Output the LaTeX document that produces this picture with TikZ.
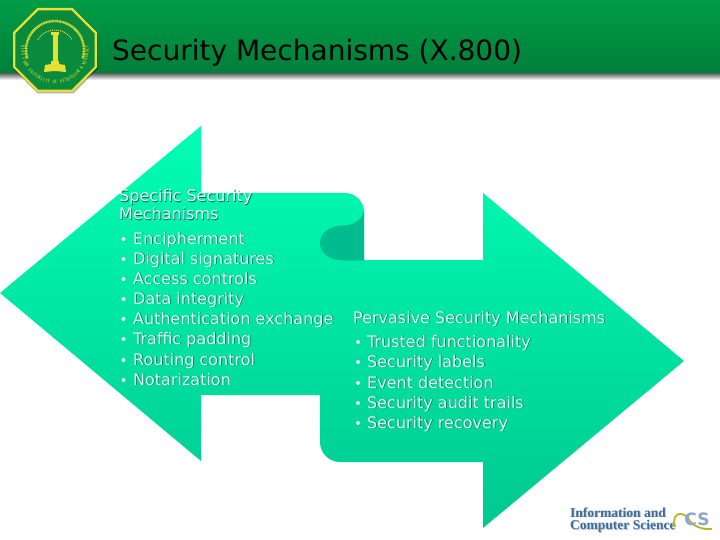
\documentclass[tikz,border=0pt]{standalone}
\usepackage{fontspec}
\setmainfont{DejaVu Sans}
\newfontfamily\logofont{Liberation Serif}
\definecolor{hdrtop}{HTML}{009C48}
\definecolor{hdrbot}{HTML}{007F38}
\definecolor{logogreen}{HTML}{0A8A3C}
\definecolor{logoyellow}{HTML}{E8E030}
\definecolor{arrowtop}{HTML}{00FFB4}
\definecolor{arrowbot}{HTML}{00C890}
\definecolor{foldcol}{HTML}{00BC8E}
\definecolor{bodytext}{HTML}{E6FFF6}
\definecolor{icsblue}{HTML}{3A6E9E}
\newcommand{\txtshadow}[1]{\makebox[0pt][l]{\hspace{0.7pt}\raisebox{-0.7pt}{\color{black!45!arrowbot}#1}}#1}
\newcommand{\icsshadow}[1]{\makebox[0pt][l]{\hspace{0.9pt}\raisebox{-0.9pt}{\color{black!25}#1}}#1}
\tikzset{
  heading/.style={anchor=base west,inner sep=0pt,font=\fontsize{16}{18}\selectfont,text=bodytext},
  item/.style={anchor=base west,inner sep=0pt,font=\fontsize{16}{18}\selectfont,text=bodytext},
  dotmark/.style={circle,fill=bodytext,inner sep=0pt,minimum size=4pt},
  arrowshape/.style={top color=arrowtop,bottom color=arrowbot},
  ringletter/.style={inner sep=0pt,font=\logofont\bfseries\fontsize{5}{5}\selectfont,text=logoyellow},
  icstext/.style={anchor=base west,inner sep=0pt,font=\logofont\bfseries\fontsize{13.5}{14}\selectfont,text=icsblue}
}
\begin{document}
\begin{tikzpicture}[x=1pt,y=-1pt]
\useasboundingbox (0,0) rectangle (720,540);
\fill[white] (0,0) rectangle (720,540);
% header band
\shade[top color=hdrtop,bottom color=hdrbot] (0,0) rectangle (720,74);
\shade[top color=black!55,bottom color=white] (0,74) rectangle (720,80);
\node[anchor=base west,inner sep=0pt,font=\fontsize{28}{32}\selectfont,text=black] (title) at (112,61) {Security Mechanisms (X.800)};
% double arrow as one shape
\shade[arrowshape] (0,293) -- (201,126) -- (201,193) -- (345,193) arc[start angle=270,end angle=360,radius=19] -- (364,260) -- (483,260) -- (483,193) -- (684,361) -- (483,528) -- (483,462) -- (340,462) arc[start angle=90,end angle=180,radius=20] -- (320,395) -- (201,395) -- (201,461) -- cycle;
% fold
\fill[foldcol] (364,209) .. controls (364,219) and (354,225.5) .. (343,225.5) .. controls (330,225.5) and (320,233) .. (320,243) .. controls (320,253) and (330,260.5) .. (343,260.5) -- (364,260.5) -- cycle;
% left text
\node[heading] (sa) at (119,202) {\txtshadow{Specific Security}};
\node[heading] (sb) at (119,220) {\txtshadow{Mechanisms}};
\foreach \n/\y/\t in {a/244/Encipherment,b/264/Digital signatures,c/284/Access controls,d/304/Data integrity,e/324/Authentication exchange,f/344/Traffic padding,g/365/Routing control,h/385/Notarization}{
  \node[item] (l\n) at (133,\y) {\txtshadow{\t}};
  \node[dotmark] (ld\n) at (123.5,\y-5) {};
}
% right text
\node[heading] (pa) at (353,323) {\txtshadow{Pervasive Security Mechanisms}};
\foreach \n/\y/\t in {a/347/Trusted functionality,b/367/Security labels,c/388/Event detection,d/408/Security audit trails,e/428/Security recovery}{
  \node[item] (r\n) at (367,\y) {\txtshadow{\t}};
  \node[dotmark] (rd\n) at (358,\y-5) {};
}
% KFUPM logo
\begin{scope}[shift={(55,50)}]
  \fill[black,opacity=.3] (-17.5,-41) -- (18.5,-41) -- (43,-16.5) -- (43,18.5) -- (18.5,43.5) -- (-17.5,43.5) -- (-42,18.5) -- (-42,-16.5) -- cycle;
  \fill[logoyellow] (-17.5,-42) -- (17.5,-42) -- (42,-17.5) -- (42,17.5) -- (17.5,42) -- (-17.5,42) -- (-42,17.5) -- (-42,-17.5) -- cycle;
  \fill[logogreen] (-16.5,-39.7) -- (16.5,-39.7) -- (39.7,-16.5) -- (39.7,16.5) -- (16.5,39.7) -- (-16.5,39.7) -- (-39.7,16.5) -- (-39.7,-16.5) -- cycle;
  \draw[logoyellow,line width=2.4pt,dash pattern=on 1pt off .6pt] (163:29) arc[start angle=163,end angle=377,radius=29];
  \draw[logoyellow,line width=1pt,dash pattern=on 1pt off 1pt] (210:20) arc[start angle=210,end angle=330,radius=20];
  \foreach \c [count=\i] in {K,I,N,G,{},F,A,H,D,{},U,N,I,V,E,R,S,I,T,Y,{},O,F,{},P,E,T,R,O,L,E,U,M,{},\&,{},M,I,N,E,R,A,L,S}{
    \pgfmathsetmacro{\a}{-96+(\i-1)*192/43}
    \node[ringletter,rotate=\a] (ring\i) at ({32*sin(\a)},{32*cos(\a)}) {\scalebox{.55}[1]{\c}};
  }
  \fill[logoyellow] (-2.5,-17) rectangle (2.5,12);
  \fill[logoyellow] (-4,-18) rectangle (4,-15);
  \fill[logoyellow] (-4,11) rectangle (4,14);
  \fill[logoyellow] (-10,15) -- (0,13.5) -- (10,15) -- (11,22) -- (0,21) -- (-11,22) -- cycle;
\end{scope}
% ICS logo
\node[icstext] (ia) at (570,517) {\icsshadow{Information and}};
\node[icstext] (ib) at (570,529.5) {\icsshadow{Computer Science}};
\draw[line width=1.8pt,draw=logoyellow!80!black] (675,527) .. controls (671,516) and (680,509) .. (688,518) .. controls (692,526) and (702,530) .. (712,529);
\node[anchor=base,inner sep=0pt,font=\fontsize{17}{18}\bfseries\selectfont,text=icsblue!60!white] (ic) at (697,525.5) {CS};
\end{tikzpicture}
\end{document}
